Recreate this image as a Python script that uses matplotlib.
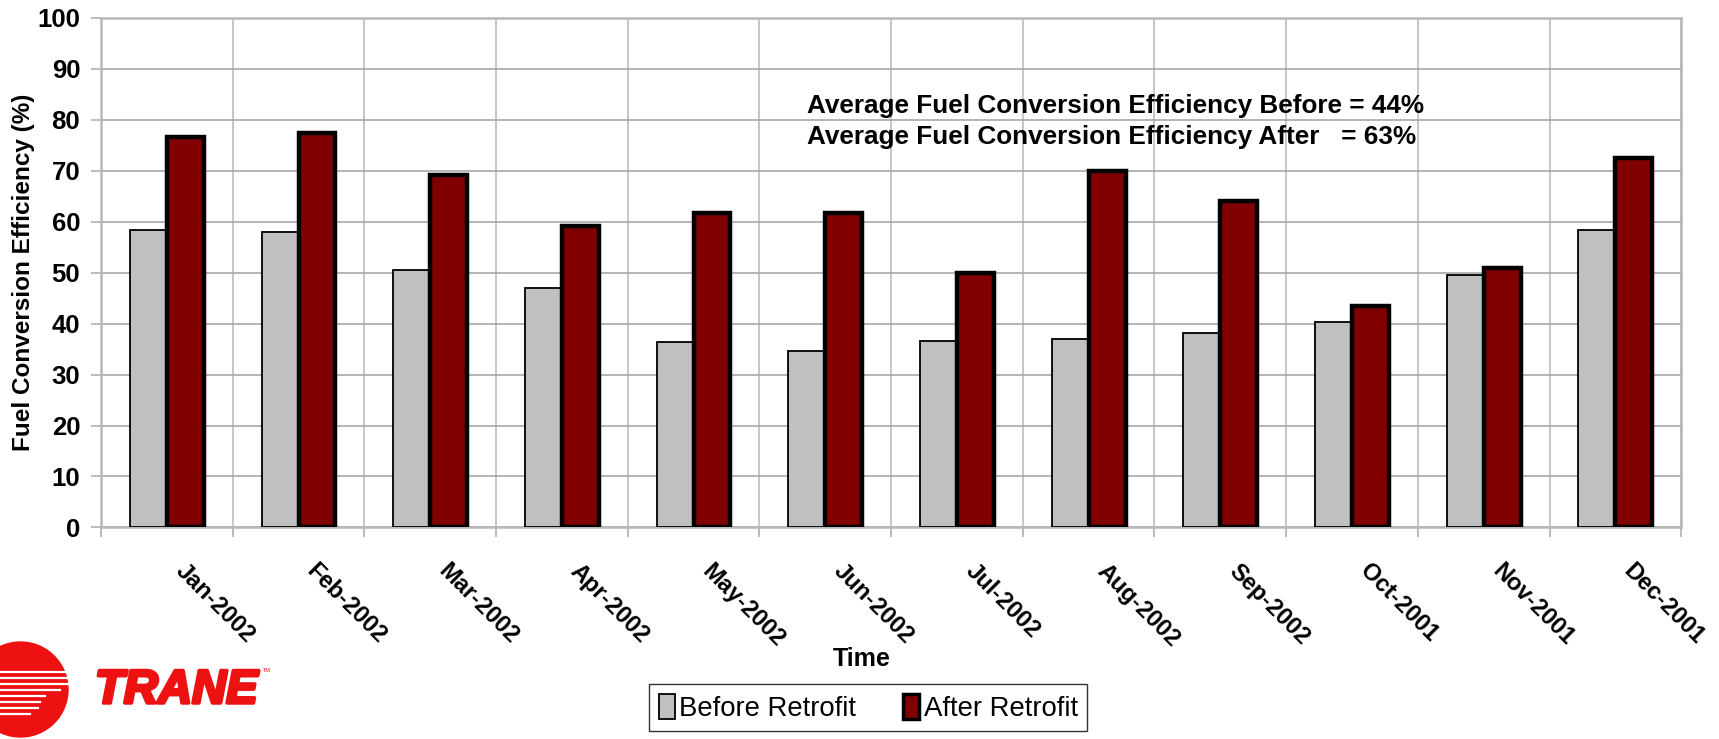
import numpy as np
import matplotlib
matplotlib.use('Agg')
import matplotlib.pyplot as plt
import matplotlib.patheffects as pe
from matplotlib.patches import Circle, Rectangle
from matplotlib.lines import Line2D

plt.rcParams['font.family'] = ['Liberation Sans', 'DejaVu Sans']

#monthly data
months = ['Jan-2002', 'Feb-2002', 'Mar-2002', 'Apr-2002', 'May-2002', 'Jun-2002',
          'Jul-2002', 'Aug-2002', 'Sep-2002', 'Oct-2001', 'Nov-2001', 'Dec-2001']
before = [58.4, 57.9, 50.4, 47.0, 36.4, 34.6, 36.5, 36.9, 38.1, 40.2, 49.6, 58.3]
after = [76.5, 77.4, 69.2, 59.2, 61.6, 61.7, 50.0, 70.0, 64.1, 43.5, 50.8, 72.4]
y_ticks = [0, 10, 20, 30, 40, 50, 60, 70, 80, 90, 100]
note_before = 'Average Fuel Conversion Efficiency Before = 44%'
note_after = 'Average Fuel Conversion Efficiency After   = 63%'

fig = plt.figure(figsize=(17.19, 7.39), dpi=100)
ax = fig.add_axes([0.0588, 0.2862, 0.9192, 0.6901])

x = np.arange(len(months))
w = 0.28
ax.bar(x - w/2, before, w, color='#C0C0C0', edgecolor='black', linewidth=1.3, zorder=3,
       label='Before Retrofit')
ax.bar(x + w/2, after, w, color='#800000', edgecolor='black', linewidth=3.2, zorder=4,
       label='After Retrofit')

ax.set_xlim(-0.5, len(months) - 0.5)
ax.set_ylim(0, 100)
ax.set_yticks(y_ticks)
ax.set_yticklabels([str(t) for t in y_ticks], fontsize=18.5, fontweight='bold')

#categories boundaries carry grid + ticks, labels at centres
ax.set_xticks(x)
ax.set_xticks(np.arange(len(months) + 1) - 0.5, minor=True)
ax.tick_params(axis='x', which='major', length=0, pad=0)
ax.tick_params(axis='x', which='minor', length=7, color='#B0B0B0', width=1.2)
ax.tick_params(axis='y', length=7, color='#B0B0B0', width=1.2, pad=8)
ax.set_xticklabels([])
for i, m in enumerate(months):
    ax.annotate(m, xy=(i, 0), xycoords='data', xytext=(20, -32), textcoords='offset pixels',
                rotation=-45, rotation_mode='anchor', ha='left', va='top',
                fontsize=17, fontweight='bold', annotation_clip=False)

ax.grid(True, axis='y', which='major', color='#A0A0A0', linewidth=1.1, zorder=0)
ax.grid(True, axis='x', which='minor', color='#B8B8B8', linewidth=1.1, zorder=0)
for s in ax.spines.values():
    s.set_color('#B8B8B8')
    s.set_linewidth(1.8)

ax.set_ylabel('Fuel Conversion Efficiency (%)', fontsize=17.5, fontweight='bold')
ax.yaxis.set_label_coords(-0.042, 0.5)

ax.text(0.447, 0.826, note_before, transform=ax.transAxes, fontsize=18.8, fontweight='bold',
        va='center', ha='left')
ax.text(0.447, 0.766, note_after, transform=ax.transAxes, fontsize=18.8, fontweight='bold',
        va='center', ha='left')

fig.text(0.501, 0.108, 'Time', fontsize=18, fontweight='bold', ha='center', va='center')

h1 = Rectangle((0, 0), 1, 1, facecolor='#C0C0C0', edgecolor='black', linewidth=1.3)
h2 = Rectangle((0, 0), 1, 1, facecolor='#800000', edgecolor='black', linewidth=2.5)
leg = fig.legend([h1, h2], ['Before Retrofit', 'After Retrofit'], loc='center',
                 bbox_to_anchor=(0.505, 0.042), ncol=2, fontsize=19.8, frameon=True,
                 fancybox=False, edgecolor='black', handlelength=0.6, handleheight=1.0,
                 handletextpad=0.15, columnspacing=1.7, borderpad=0.35)
leg.get_frame().set_linewidth(1.0)

#logo: red disc with white stripes, cut at left edge
W, H = 1719, 739
lax = fig.add_axes([0, 0, 1, 1], zorder=-1)
lax.set_xlim(0, W)
lax.set_ylim(H, 0)
lax.axis('off')
lax.add_patch(Circle((20.5, 689.5), 47.5, color='#EE1111', zorder=1))
stripes = [(672, 0, 68), (678, 0, 68), (684, 0, 68), (690, 0, 60), (696, 0, 45),
           (702, 0, 40), (708, 0, 38), (714, 0, 30)]
for yy, x0, x1 in stripes:
    lax.add_line(Line2D([x0, x1], [yy, yy], color='white', linewidth=1.6, zorder=2))
trane = lax.text(95, 703, 'TRANE', fontsize=34, fontweight='heavy', fontstyle='italic',
                 color='#EE1111', ha='left', va='baseline')
trane.set_path_effects([pe.withStroke(linewidth=2.5, foreground='#EE1111')])
lax.text(263, 672, 'TM', fontsize=4, color='#EE1111', ha='left', va='baseline')

fig.savefig('out.png', dpi=100)
